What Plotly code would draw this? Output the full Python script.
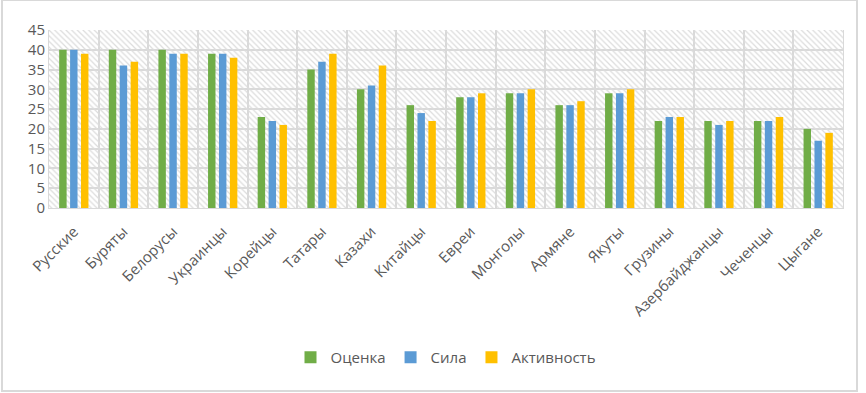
import plotly.graph_objects as go

categories = ["Русские", "Буряты", "Белорусы", "Украинцы", "Корейцы", "Татары", "Казахи",
              "Китайцы", "Евреи", "Монголы", "Армяне", "Якуты", "Грузины", "Азербайджанцы",
              "Чеченцы", "Цыгане"]
ocenka = [40, 40, 40, 39, 23, 35, 30, 26, 28, 29, 26, 29, 22, 22, 22, 20]
sila = [40, 36, 39, 39, 22, 37, 31, 24, 28, 29, 26, 29, 23, 21, 22, 17]
aktivnost = [39, 37, 39, 38, 21, 39, 36, 22, 29, 30, 27, 30, 23, 22, 23, 19]
series_names = ["Оценка", "Сила", "Активность"]
colors = ["#70AD47", "#5B9BD5", "#FFC000"]
y_ticks = [0, 5, 10, 15, 20, 25, 30, 35, 40, 45]

n = len(categories)
xs = list(range(n))

fig = go.Figure()

# hatched plot background
fig.add_trace(go.Bar(
    x=[(n - 1) / 2], y=[45], width=[n], showlegend=False, hoverinfo="skip",
    marker=dict(color="rgba(0,0,0,0)", line=dict(width=0),
                pattern=dict(shape="\\", fgcolor="#dcdcdc", bgcolor="rgba(0,0,0,0)",
                             size=4, solidity=0.3, fillmode="replace")),
))

offsets = [-0.295, -0.075, 0.145]
for name, vals, col, off in zip(series_names, [ocenka, sila, aktivnost], colors, offsets):
    fig.add_trace(go.Bar(
        x=xs, y=vals, name=name, width=0.15, offset=off,
        marker=dict(color=col, line=dict(width=0)),
    ))

fig.update_layout(
    width=866, height=393,
    margin=dict(l=49, r=23, t=30, b=185, autoexpand=False),
    barmode="overlay",
    paper_bgcolor="white", plot_bgcolor="white",
    font=dict(family="Open Sans", size=14, color="#595959"),
    legend=dict(orientation="h", x=0.5, xanchor="center", y=-0.84, yanchor="middle",
                font=dict(size=15, color="#595959"), itemwidth=30, traceorder="normal"),
    xaxis=dict(
        range=[-0.5, n - 0.5], tickmode="array", tickvals=xs, ticktext=categories,
        tickangle=-45, showgrid=False, showline=True, linecolor="#d9d9d9", linewidth=1,
        ticks="", zeroline=False, automargin=False, tickfont=dict(size=15),
        ticklabelstandoff=8,
        minor=dict(tickmode="array", tickvals=[i - 0.5 for i in range(n + 1)],
                   showgrid=True, gridcolor="#d9d9d9", gridwidth=1.5, ticks=""),
    ),
    yaxis=dict(
        range=[0, 45], tickmode="array", tickvals=y_ticks, showgrid=True,
        gridcolor="#d9d9d9", gridwidth=1.5, zeroline=False, ticks="",
        showline=True, linecolor="#d9d9d9", mirror=True, automargin=False,
        tickfont=dict(size=15),
    ),
    shapes=[dict(type="rect", xref="paper", yref="paper",
                 x0=(2 - 49) / 794, x1=(857 - 49) / 794,
                 y0=(208 - 391) / 178, y1=(208 - 0) / 178,
                 line=dict(color="#d9d9d9", width=2), layer="below")],
)

fig.write_html("out.html", config={"displayModeBar": False},
               post_script="document.body.style.margin='0';")
